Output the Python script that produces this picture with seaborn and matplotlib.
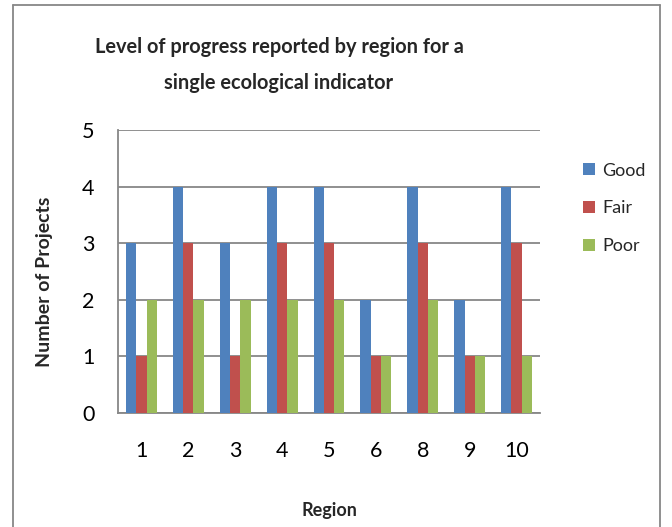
import pandas as pd
import matplotlib.pyplot as plt
import seaborn as sns
from matplotlib.lines import Line2D

# values
regions = ['1', '2', '3', '4', '5', '6', '8', '9', '10']
good = [3, 4, 3, 4, 4, 2, 4, 2, 4]
fair = [1, 3, 1, 3, 3, 1, 3, 1, 3]
poor = [2, 2, 2, 2, 2, 1, 2, 1, 1]
levels = ['Good', 'Fair', 'Poor']
colors = ['#4F81BD', '#C0504D', '#9BBB59']

df = pd.DataFrame({'Region': regions, 'Good': good, 'Fair': fair, 'Poor': poor})
df = df.melt(id_vars='Region', var_name='Level', value_name='Projects')

sns.set_style('white')
plt.rcParams['font.family'] = ['Lato', 'DejaVu Sans']

fig = plt.figure(figsize=(6.72, 5.27), dpi=100)
ax = fig.add_axes([118 / 672, 114 / 527, 422 / 672, 283 / 527])

sns.barplot(data=df, x='Region', y='Projects', hue='Level', order=regions,
            hue_order=levels, palette=colors, width=0.66, ax=ax,
            edgecolor='none', linewidth=0, saturation=1, zorder=3)

ax.set_ylim(0, 5)
ax.set_yticks(range(6))
ax.set_xlim(-0.5, len(regions) - 0.5)
ax.yaxis.grid(True, color='#878787', linewidth=1.3, zorder=0)
ax.set_axisbelow(True)
for s in ['top', 'right']:
    ax.spines[s].set_visible(False)
for s in ['left', 'bottom']:
    ax.spines[s].set_color('#878787')
    ax.spines[s].set_linewidth(1.3)
ax.tick_params(axis='both', length=0, labelsize=15.5, colors='black')
ax.tick_params(axis='x', pad=20)
ax.tick_params(axis='y', pad=17)

ax.set_xlabel('Region', fontsize=13, fontweight='bold', labelpad=30)
ax.set_ylabel('Number of Projects', fontsize=14, fontweight='bold')
ax.yaxis.set_label_coords(-0.154, 0.463)

ax.legend(loc='upper left', bbox_to_anchor=(1.102, 0.885), frameon=False,
          fontsize=13, handlelength=0.65, handleheight=0.65,
          labelspacing=1.2, handletextpad=0.4, borderpad=0, borderaxespad=0)

fig.text(279 / 672, 1 - 65 / 527,
         'Level of progress reported by region for a\nsingle ecological indicator',
         ha='center', va='center', fontsize=14.4, fontweight='bold',
         linespacing=1.95)

# outer chart border
x0, x1, yt = 13 / 672, 660 / 672, 1 - 5 / 527
for xs, ys in [([x0, x0], [0, yt]), ([x0, x1], [yt, yt]), ([x1, x1], [yt, 0])]:
    fig.add_artist(Line2D(xs, ys, color='#878787', linewidth=1.3,
                          transform=fig.transFigure))

fig.savefig('out.png', dpi=100)
